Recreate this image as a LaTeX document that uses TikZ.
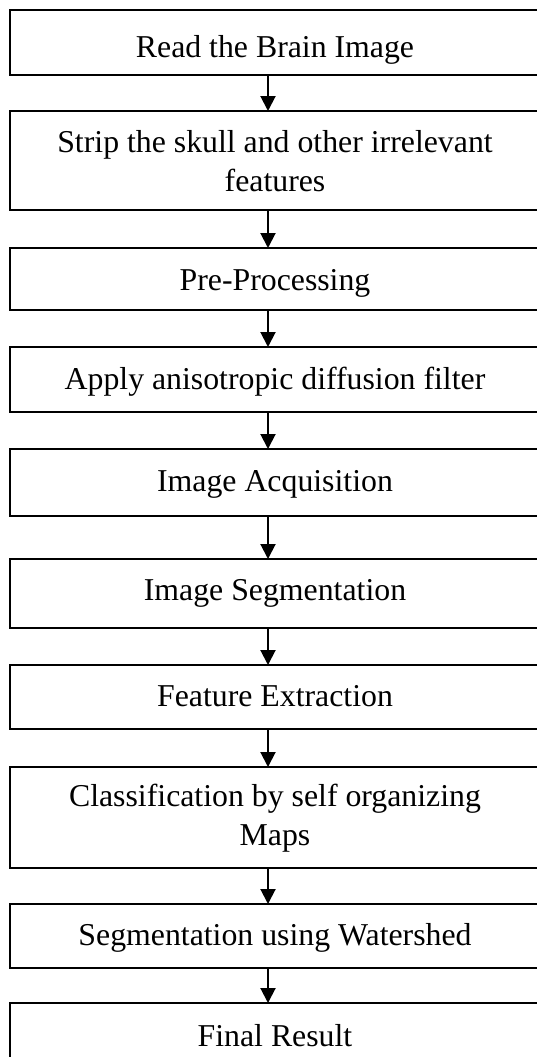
\documentclass[tikz,border=0pt]{standalone}
\usepackage{fontspec}
\setmainfont{Liberation Serif}
\usetikzlibrary{arrows.meta}
\begin{document}
\begin{tikzpicture}[x=1pt,y=-1pt,
  box/.style={draw=black, line width=1.8pt, rectangle, minimum width=530pt, inner sep=0pt, outer sep=0pt, fill=none},
  txt/.style={anchor=base, inner sep=0pt, align=center, font=\fontsize{31.8}{39}\selectfont},
  arr/.style={line width=2pt, -{Triangle[width=15pt,length=15pt]}}]
\useasboundingbox (0,0) rectangle (536,1057);
\coordinate (ax) at (268,0);
% boxes
\node[box, minimum height=65pt]  (b1)  at (275,42.5) {};
\node[box, minimum height=99pt]  (b2)  at (275,160.5) {};
\node[box, minimum height=62pt]  (b3)  at (275,279) {};
\node[box, minimum height=65pt]  (b4)  at (275,379.5) {};
\node[box, minimum height=67pt]  (b5)  at (275,482.5) {};
\node[box, minimum height=69pt]  (b6)  at (275,593.5) {};
\node[box, minimum height=64pt]  (b7)  at (275,697) {};
\node[box, minimum height=101pt] (b8)  at (275,817.5) {};
\node[box, minimum height=64pt]  (b9)  at (275,936) {};
\node[box, minimum height=67pt]  (b10) at (275,1036.5) {};
% texts (base = baseline of the last line)
\node[txt] (t1)  at (275,58)    {Read the Brain Image};
\node[txt] (t2)  at (275,191)   {Strip the skull and other irrelevant\\features};
\node[txt] (t3)  at (275,290.5) {Pre-Processing};
\node[txt] (t4)  at (275,389)   {Apply anisotropic diffusion filter};
\node[txt] (t5)  at (275,491)   {Image Acquisition};
\node[txt] (t6)  at (275,600)   {Image Segmentation};
\node[txt] (t7)  at (275,706)   {Feature Extraction};
\node[txt] (t8)  at (275,845)   {Classification by self organizing\\Maps};
\node[txt] (t9)  at (275,945)   {Segmentation using Watershed};
\node[txt] (t10) at (275,1046)  {Final Result};
% arrows
\draw[arr] (b1.south -| ax) -- (b2.north -| ax);
\draw[arr] (b2.south -| ax) -- (b3.north -| ax);
\draw[arr] (b3.south -| ax) -- (b4.north -| ax);
\draw[arr] (b4.south -| ax) -- (b5.north -| ax);
\draw[arr] (b5.south -| ax) -- (b6.north -| ax);
\draw[arr] (b6.south -| ax) -- (b7.north -| ax);
\draw[arr] (b7.south -| ax) -- (b8.north -| ax);
\draw[arr] (b8.south -| ax) -- (b9.north -| ax);
\draw[arr] (b9.south -| ax) -- (b10.north -| ax);
\end{tikzpicture}
\end{document}
